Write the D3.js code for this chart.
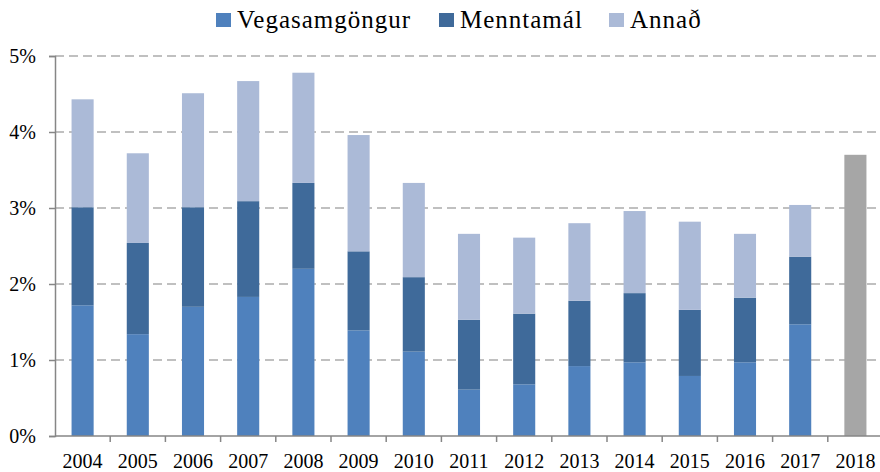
<!DOCTYPE html>
<html>
<head>
<meta charset="utf-8">
<script src="https://cdn.jsdelivr.net/npm/d3@7"></script>
<style>
  body { margin: 0; background: #fff; }
  svg { display: block; }
</style>
</head>
<body>
<div id="chart"></div>
<script>
const years = ["2004","2005","2006","2007","2008","2009","2010","2011","2012","2013","2014","2015","2016","2017","2018"];
const seriesNames = ["Vegasamgöngur", "Menntamál", "Annað"];
const vegasamgongur = [1.72, 1.34, 1.70, 1.83, 2.20, 1.39, 1.11, 0.61, 0.68, 0.92, 0.97, 0.79, 0.97, 1.47];
const menntamal     = [1.29, 1.20, 1.31, 1.26, 1.13, 1.04, 0.98, 0.92, 0.93, 0.86, 0.91, 0.87, 0.85, 0.89];
const annad         = [1.42, 1.18, 1.50, 1.58, 1.45, 1.53, 1.24, 1.13, 1.00, 1.02, 1.08, 1.16, 0.84, 0.68];
const total2018 = 3.70;
const yTicks = [0, 1, 2, 3, 4, 5];

const width = 880, height = 472;
const margin = { top: 56, right: -3, bottom: 36, left: 55 };
const colors = ["#4f81bd", "#3f6a9a", "#abbad7"];
const serif = "'Liberation Serif', 'Times New Roman', serif";

const svg = d3.select("#chart").append("svg")
  .attr("width", width)
  .attr("height", height)
  .style("font-family", serif);

const x = d3.scaleBand()
  .domain(years)
  .range([margin.left, width - margin.right])
  .paddingInner(0.6)
  .paddingOuter(0.3);

const y = d3.scaleLinear()
  .domain([0, 5])
  .range([height - margin.bottom, margin.top]);

// gridlines
svg.append("g")
  .selectAll("line")
  .data(yTicks.filter(d => d > 0))
  .join("line")
  .attr("x1", margin.left)
  .attr("x2", width)
  .attr("y1", d => y(d))
  .attr("y2", d => y(d))
  .attr("stroke", "#c0c0c0")
  .attr("stroke-width", 2)
  .attr("stroke-dasharray", "9,5");

// stacked bars
const rows = vegasamgongur.map((v, i) => ({
  year: years[i],
  "Vegasamgöngur": v,
  "Menntamál": menntamal[i],
  "Annað": annad[i]
}));
const stacked = d3.stack().keys(seriesNames)(rows);

svg.append("g")
  .selectAll("g")
  .data(stacked)
  .join("g")
  .attr("fill", (d, i) => colors[i])
  .selectAll("rect")
  .data(d => d)
  .join("rect")
  .attr("x", d => x(d.data.year))
  .attr("width", x.bandwidth())
  .attr("y", d => y(d[1]))
  .attr("height", d => y(d[0]) - y(d[1]));

svg.append("rect")
  .attr("x", x("2018"))
  .attr("width", x.bandwidth())
  .attr("y", y(total2018))
  .attr("height", y(0) - y(total2018))
  .attr("fill", "#a6a6a6");

// y axis
const yAxis = svg.append("g")
  .attr("transform", `translate(${margin.left},0)`)
  .call(d3.axisLeft(y).tickValues(yTicks).tickFormat(d => d + "%").tickSize(6).tickPadding(13))
  .attr("font-family", serif)
  .attr("font-size", 20);
yAxis.select(".domain").attr("stroke", "#868686").attr("stroke-width", 1.5);
yAxis.selectAll(".tick line").attr("stroke", "#868686").attr("stroke-width", 1.5);
yAxis.selectAll(".tick text").attr("fill", "#000");

// x axis
const step = x.step();
const xAxisG = svg.append("g")
  .attr("transform", `translate(0,${y(0)})`);
xAxisG.append("line")
  .attr("x1", margin.left)
  .attr("x2", width)
  .attr("stroke", "#868686")
  .attr("stroke-width", 1.5);
xAxisG.selectAll("line.tk")
  .data(years.slice(1).map(yr => x(yr) - (step - x.bandwidth()) / 2))
  .join("line")
  .attr("class", "tk")
  .attr("x1", d => d)
  .attr("x2", d => d)
  .attr("y1", 0)
  .attr("y2", 6)
  .attr("stroke", "#868686")
  .attr("stroke-width", 1.5);
xAxisG.selectAll("text")
  .data(years)
  .join("text")
  .attr("x", d => x(d) + x.bandwidth() / 2)
  .attr("y", 32)
  .attr("text-anchor", "middle")
  .style("font-size", "20px")
  .text(d => d);

// legend
const legendItems = [
  { name: seriesNames[0], color: colors[0], x: 216 },
  { name: seriesNames[1], color: colors[1], x: 439 },
  { name: seriesNames[2], color: colors[2], x: 609 }
];
const legend = svg.append("g")
  .selectAll("g")
  .data(legendItems)
  .join("g")
  .attr("transform", d => `translate(${d.x},13)`);
legend.append("rect")
  .attr("width", 15)
  .attr("height", 14)
  .attr("fill", d => d.color);
legend.append("text")
  .attr("x", 21)
  .attr("y", 15)
  .style("font-size", "25px")
  .style("letter-spacing", "1px")
  .text(d => d.name);
</script>
</body>
</html>
